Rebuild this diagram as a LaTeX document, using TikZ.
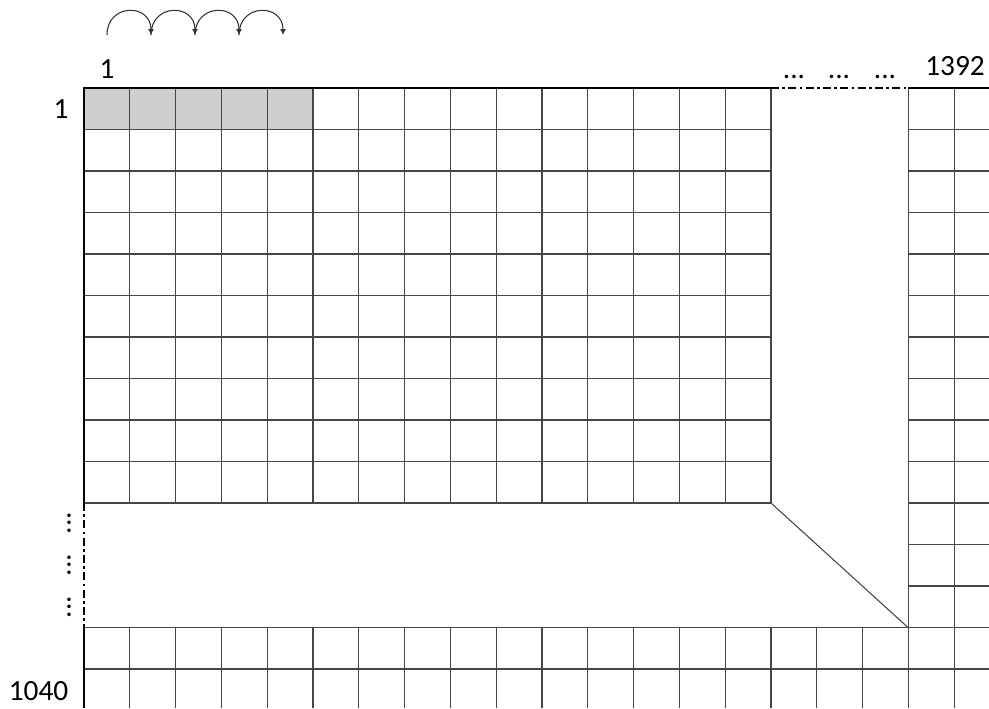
\documentclass[tikz,border=0pt]{standalone}
\usepackage{fontspec}
\setmainfont{Carlito}
\usetikzlibrary{arrows.meta}
\definecolor{cellgray}{RGB}{208,206,206}
\definecolor{linegray}{RGB}{70,70,70}
\tikzset{
  gridline/.style={draw=linegray, line width=1pt},
  border/.style={draw=black, line width=2.2pt},
  gapline/.style={draw=black, line width=1.8pt, dash pattern=on 6pt off 2.5pt on 2pt off 2.5pt},
  hop/.style={-{Latex[length=4.5pt,width=4.5pt]}, line width=0.8pt, black!80},
  lbl/.style={font=\fontsize{22}{26}\selectfont, inner sep=0pt, anchor=base},
  vdotsbox/.style={font=\fontsize{22}{26}\selectfont, inner sep=0pt, rotate=90},
}
\begin{document}
\begin{tikzpicture}[x=0.75pt, y=-0.75pt]
\useasboundingbox (0,0) rectangle (989,708);
\clip (0,0) rectangle (989,708);
% shaded cells
\fill[cellgray] (84,88) rectangle (313,129.5);
% main block
\foreach \i in {1,...,15} \draw[gridline] ({84+\i*45.8},88) -- ({84+\i*45.8},503);
\foreach \j in {1,...,10} \draw[gridline] (84,{88+\j*41.5}) -- (771,{88+\j*41.5});
% right strip
\foreach \i in {18,19,20} \draw[gridline] ({84+\i*45.8},88) -- ({84+\i*45.8},708);
\foreach \j in {1,...,14} \draw[gridline] (908,{88+\j*41.5}) -- (989,{88+\j*41.5});
% bottom strip
\foreach \i in {1,...,17} \draw[gridline] ({84+\i*45.8},627.5) -- ({84+\i*45.8},708);
\foreach \j in {13,14} \draw[gridline] (84,{88+\j*41.5}) -- (908,{88+\j*41.5});
% fold
\draw[gridline, line width=0.8pt] (771,503) -- (908,627.5);
% borders
\draw[border] (84,503) -- (84,88) -- (771,88);
\draw[border] (908,88) -- (989,88);
\draw[border] (84,627.5) -- (84,708);
\draw[gapline] (771,88) -- (908,88);
\draw[gapline] (84,503) -- (84,627.5);
% labels
\node[lbl] (colfirst) at (107,78) {1};
\node[lbl] (collast) at (955,75) {1392};
\node[lbl] (rowfirst) at (61,118) {1};
\node[lbl] (rowlast) at (38.5,700) {1040};
\foreach \x [count=\k] in {794,839,885} \node[lbl] (hdots\k) at (\x,78) {...};
\foreach \y [count=\k] in {523,565,607} \node[vdotsbox] (vdots\k) at (69,\y) {...};
% scan hops
\foreach \k in {0,...,4} \coordinate (hop\k) at ({107+\k*44},35);
\foreach \k/\n in {0/1,1/2,2/3,3/4}
  \draw[hop] (hop\k) .. controls +(0,-32) and +(0,-32) .. (hop\n);
\end{tikzpicture}
\end{document}
